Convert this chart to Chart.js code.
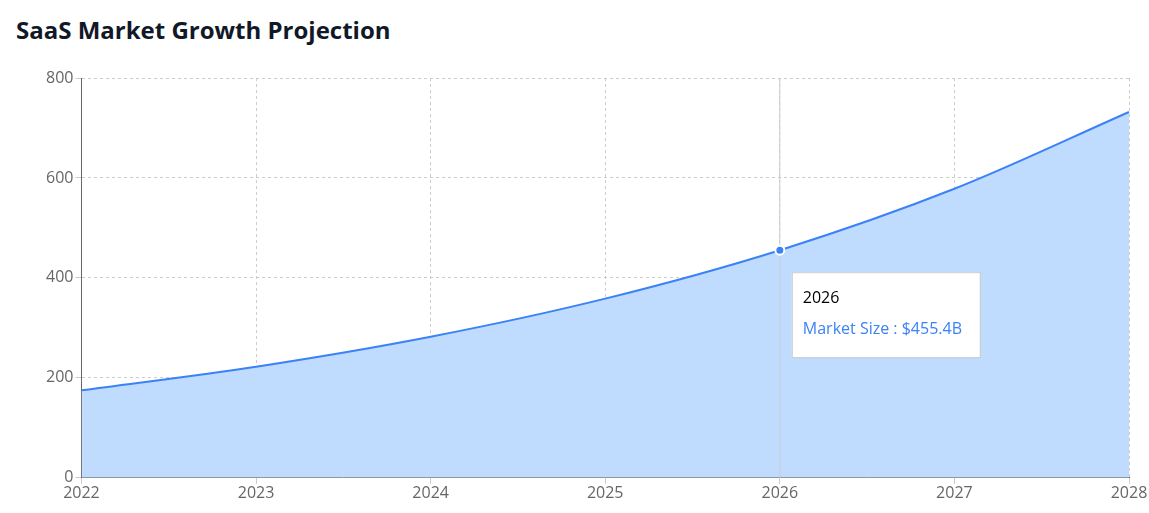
<!DOCTYPE html>
<html><head><meta charset="utf-8">
<script src="https://cdn.jsdelivr.net/npm/chart.js@4"></script>
<style>
body{margin:0;background:#fff;font-family:"Open Sans",sans-serif;}
h1{position:absolute;left:16px;top:13px;margin:0;font-size:24px;font-weight:700;color:#111827;font-family:"Open Sans",sans-serif;}
#wrap{position:absolute;left:0;top:60px;width:1149px;height:453px;}
</style></head><body>
<h1>SaaS Market Growth Projection</h1>
<div id="wrap"><canvas id="c"></canvas></div>
<script>
const years = ["2022","2023","2024","2025","2026","2027","2028"];
const marketSize = [175.0, 222.3, 282.3, 358.5, 455.4, 578.3, 732.0];
const yTicks = [0,200,400,600,800];
const activeIndex = 4;

const tipPlugin = {
  id:'tip',
  afterDatasetsDraw(chart){
    const ctx = chart.ctx, meta = chart.getDatasetMeta(0), p = meta.data[activeIndex];
    const a = chart.chartArea;
    ctx.save();
    ctx.strokeStyle='#cccccc'; ctx.lineWidth=1;
    ctx.beginPath(); ctx.moveTo(p.x,a.top); ctx.lineTo(p.x,a.bottom); ctx.stroke();
    ctx.fillStyle='#3b82f6'; ctx.strokeStyle='#fff'; ctx.lineWidth=2;
    ctx.beginPath(); ctx.arc(p.x,p.y,4.5,0,Math.PI*2); ctx.fill(); ctx.stroke();
    const bx=p.x+12, by=p.y+22, bw=188, bh=85;
    ctx.fillStyle='#fff'; ctx.strokeStyle='#cccccc'; ctx.lineWidth=1;
    ctx.fillRect(bx,by,bw,bh); ctx.strokeRect(bx+0.5,by+0.5,bw,bh);
    ctx.font='16px "Open Sans"'; ctx.textBaseline='middle';
    ctx.fillStyle='#000'; ctx.fillText(years[activeIndex],bx+11,by+26);
    ctx.fillStyle='#3b82f6'; ctx.fillText('Market Size : $'+marketSize[activeIndex].toFixed(1)+'B',bx+11,by+57);
    ctx.restore();
  }
};

new Chart(document.getElementById('c'),{
  type:'line',
  data:{labels:years,datasets:[{data:marketSize,borderColor:'#3b82f6',backgroundColor:'#bfdbfe',fill:true,borderWidth:2,pointRadius:0,pointHoverRadius:0,cubicInterpolationMode:'monotone'}]},
  options:{
    responsive:true,maintainAspectRatio:false,animation:false,
    events:[],
    layout:{padding:{left:44,right:20,top:18,bottom:10}},
    plugins:{legend:{display:false},tooltip:{enabled:false}},
    scales:{
      x:{offset:false,grid:{color:'#cccccc',tickLength:6},border:{color:'#666',dash:[3,3]},
         ticks:{color:'#666',font:{size:16,family:'"Open Sans"'},padding:0}},
      y:{min:0,max:800,afterBuildTicks(s){s.ticks=yTicks.map(v=>({value:v}));},
         grid:{color:'#cccccc',tickLength:6},border:{color:'#666',dash:[3,3]},
         ticks:{color:'#666',font:{size:16,family:'"Open Sans"'},padding:2}}
    }
  },
  plugins:[tipPlugin]
});
</script>
</body></html>
